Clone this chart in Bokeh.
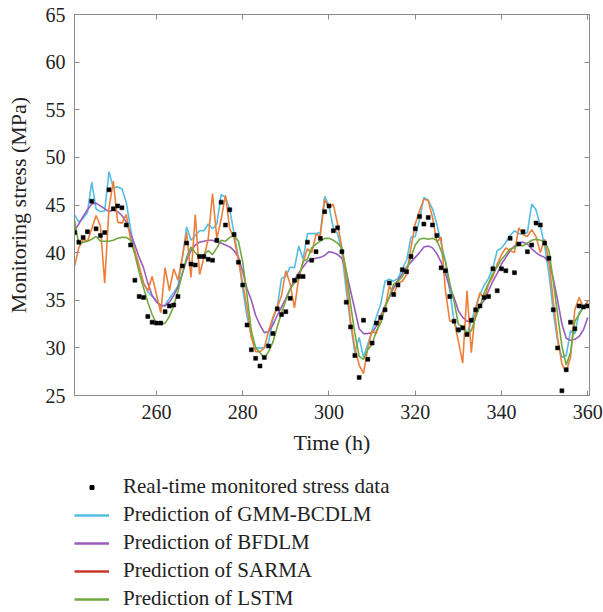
from bokeh.plotting import figure
from bokeh.layouts import column
from bokeh.models import Range1d, LinearAxis, FixedTicker, Legend, LegendItem, CustomJSTickFormatter
from bokeh.embed import file_html
from bokeh.resources import INLINE

hours = list(range(241, 361))

real = [42.1, 41.1, 41.6, 42.2, 45.4, 42.5, 41.8, 42.1, 46.6, 44.6, 44.9, 44.7, 42.9, 40.8, 37.1, 35.4, 35.3, 33.3, 32.7, 32.6,
        32.6, 33.8, 34.4, 34.5, 35.4, 38.6, 41.0, 38.8, 38.7, 39.6, 39.6, 39.3, 39.2, 41.3, 45.3, 42.9, 44.5, 41.9, 39.0, 36.6,
        32.4, 29.8, 28.9, 28.1, 29.0, 30.2, 31.5, 34.1, 33.5, 33.8, 35.2, 37.1, 37.5, 37.5, 41.1, 39.2, 40.1, 41.5, 44.3, 44.9,
        42.3, 42.6, 40.1, 34.8, 32.2, 29.2, 26.9, 32.9, 28.8, 30.5, 32.6, 33.2, 34.0, 36.8, 35.6, 36.6, 38.2, 38.0, 39.6, 42.5,
        43.8, 43.0, 43.7, 42.9, 41.8, 38.4, 38.1, 35.4, 32.8, 31.9, 32.1, 31.4, 32.9, 34.0, 34.4, 35.3, 35.4, 38.3, 36.0, 38.3,
        38.1, 41.5, 37.9, 40.9, 42.2, 40.1, 40.8, 43.1, 42.9, 41.0, 39.4, 34.0, 30.0, 25.5, 27.7, 32.7, 32.0, 34.4, 34.3, 34.4]

gmm = [44.0, 43.2, 43.6, 44.2, 47.4, 44.6, 44.3, 44.4, 48.5, 46.8, 46.9, 46.7, 45.3, 42.5, 40.0, 38.3, 36.8, 35.9, 35.4, 35.0,
       34.3, 34.5, 35.2, 35.8, 36.5, 39.5, 42.7, 41.3, 41.8, 42.3, 42.3, 43.0, 42.5, 43.0, 46.1, 45.8, 44.5, 42.0, 39.5, 36.2,
       33.3, 31.2, 30.0, 30.0, 30.0, 30.6, 33.0, 34.3, 37.3, 37.5, 38.5, 38.4, 40.7, 39.3, 42.0, 42.0, 42.0, 42.1, 45.9, 44.9,
       42.6, 42.0, 40.0, 36.0, 32.5, 29.5, 31.1, 29.0, 30.4, 31.8, 33.3, 34.6, 37.0, 37.2, 37.0, 37.3, 38.3, 39.2, 41.6, 41.7,
       43.5, 45.8, 45.5, 44.6, 43.0, 41.0, 39.1, 36.0, 32.8, 31.6, 32.1, 31.5, 32.8, 34.2, 35.6, 36.6, 37.3, 38.4, 40.2, 40.5,
       41.1, 41.8, 42.3, 42.0, 41.9, 42.1, 45.1, 44.5, 42.8, 40.7, 37.8, 33.8, 30.7, 29.0, 29.2, 31.8, 31.5, 33.7, 34.3, 34.9]

bfdlm = [42.3, 43.0, 43.8, 44.5, 45.1, 45.2, 44.9, 44.6, 44.3, 44.5, 44.3, 43.9, 43.2, 42.0, 40.8, 39.5, 38.4, 36.8, 35.5, 34.8,
         34.5, 34.4, 34.8, 35.5, 36.4, 37.8, 39.2, 40.2, 40.8, 41.1, 41.2, 41.3, 41.3, 41.1, 41.0, 40.8, 40.6, 40.2, 39.5, 38.0,
         36.2, 35.0, 33.4, 32.4, 31.6, 31.7, 32.4, 33.4, 34.3, 35.2, 36.2, 37.1, 37.9, 38.5, 39.1, 39.3, 39.4, 39.5, 39.7, 40.1,
         40.0, 39.8, 39.4, 38.0, 36.0, 34.0, 32.0, 31.5, 31.5, 31.6, 32.3, 33.4, 34.4, 35.3, 36.3, 37.1, 37.8, 38.5, 39.0, 39.5,
         40.0, 40.6, 40.7, 40.5, 39.9, 39.0, 37.8, 36.3, 35.3, 33.9, 33.2, 32.8, 32.8, 33.4, 34.4, 35.0, 36.0, 37.0, 37.8, 38.8,
         39.5, 40.2, 40.7, 41.0, 41.1, 40.9, 40.4, 40.0, 39.7, 39.5, 39.0, 37.3, 35.0, 32.5, 31.0, 30.8, 30.9, 31.2, 31.9, 33.2]

sarma = [38.6, 40.5, 41.4, 41.2, 42.5, 43.9, 42.8, 36.8, 44.7, 47.5, 43.2, 43.1, 44.0, 41.4, 40.2, 38.6, 36.8, 36.0, 37.5, 35.6,
         33.7, 38.4, 36.0, 38.3, 37.1, 39.5, 42.1, 37.4, 44.0, 37.7, 39.5, 41.4, 46.2, 41.5, 43.5, 46.0, 42.5, 41.5, 39.2, 36.8,
         34.2, 31.1, 29.6, 29.6, 30.0, 31.8, 33.2, 34.2, 35.5, 38.1, 36.7, 34.2, 37.4, 39.0, 40.4, 40.0, 41.9, 41.8, 45.6, 44.7,
         45.1, 43.0, 40.5, 37.0, 32.8, 30.0, 28.2, 27.3, 30.0, 31.8, 31.5, 33.0, 34.2, 36.5, 35.6, 36.8, 37.0, 37.7, 40.5, 43.0,
         44.4, 45.6, 45.5, 43.7, 41.1, 41.6, 36.0, 32.8, 32.8, 30.7, 28.4, 36.0, 29.5, 34.2, 35.8, 35.1, 36.7, 37.5, 38.8, 39.8,
         40.5, 40.2, 40.0, 42.6, 41.9, 41.7, 42.4, 41.7, 40.0, 41.4, 39.1, 34.9, 31.1, 28.3, 27.5, 29.0, 34.0, 35.3, 34.2, 34.9]

lstm = [43.4, 40.9, 41.1, 41.2, 41.4, 41.7, 41.2, 41.2, 41.2, 41.3, 41.5, 41.6, 41.6, 41.3, 39.8, 37.9, 36.3, 34.8, 33.5, 32.6,
        32.5, 32.6, 33.3, 34.4, 36.0, 37.8, 39.5, 40.6, 40.0, 39.5, 39.8, 40.2, 39.8, 40.5, 41.3, 41.2, 41.6, 41.8, 41.2, 39.0,
        35.5, 31.8, 30.0, 29.5, 28.9, 29.6, 30.6, 32.2, 33.7, 35.0, 36.2, 36.8, 37.3, 39.1, 39.3, 40.5, 40.9, 41.2, 41.5, 41.5,
        41.3, 41.0, 40.5, 38.1, 34.6, 31.5, 29.1, 28.8, 29.8, 30.4, 31.8, 32.6, 34.2, 35.4, 36.7, 37.0, 37.5, 38.3, 39.5, 40.8,
        41.4, 41.5, 41.4, 41.5, 41.3, 40.2, 39.1, 36.8, 34.9, 32.5, 32.2, 31.6, 31.8, 33.2, 34.4, 35.8, 36.8, 37.8, 38.5, 39.3,
        39.8, 40.4, 40.5, 40.9, 40.7, 41.0, 41.3, 41.4, 41.3, 41.2, 40.2, 37.0, 33.5, 30.2, 28.2, 29.5, 32.8, 33.5, 34.3, 34.6]

x_ticks = [260, 280, 300, 320, 340, 360]
y_ticks = [25, 30, 35, 40, 45, 50, 55, 60, 65]

labels = ["Real-time monitored stress data", "Prediction of GMM-BCDLM", "Prediction of BFDLM",
          "Prediction of SARMA", "Prediction of LSTM"]

FONT = "Liberation Serif"
AX = "#8a8a8a"
TXT = "#222222"
C_GMM = "#56BDE3"
C_BF = "#9A5DBE"
C_SAR = "#EE7F3A"
C_SAR_LEG = "#C8372D"
C_LSTM = "#72A840"

p = figure(width=603, height=470, output_backend="svg", toolbar_location=None,
           x_range=Range1d(241, 360.4), y_range=Range1d(25, 65),
           min_border_left=74, min_border_right=14, min_border_top=14, min_border_bottom=75)
p.grid.visible = False
p.outline_line_color = AX
p.outline_line_width = 1


def style_axis(ax, show_labels=True):
    ax.axis_line_color = AX
    ax.major_tick_line_color = AX
    ax.major_tick_in = 5
    ax.major_tick_out = 0
    ax.minor_tick_line_color = None
    ax.major_label_text_font = FONT
    ax.major_label_text_font_size = "20px"
    ax.major_label_text_color = TXT
    ax.axis_label_text_font = FONT
    ax.axis_label_text_font_size = "22px"
    ax.axis_label_text_font_style = "normal"
    ax.axis_label_text_color = TXT
    if not show_labels:
        ax.formatter = CustomJSTickFormatter(code="return ''")
        ax.major_label_text_font_size = "1px"
        ax.major_label_standoff = 0


xa = p.xaxis[0]
ya = p.yaxis[0]
xa.ticker = FixedTicker(ticks=x_ticks)
ya.ticker = FixedTicker(ticks=y_ticks)
style_axis(xa)
style_axis(ya)
xa.axis_label = "Time (h)"
ya.axis_label = "Monitoring stress (MPa)"
xa.major_label_standoff = 9
ya.major_label_standoff = 9
xa.axis_label_standoff = 8
ya.axis_label_standoff = 12

top = LinearAxis(ticker=FixedTicker(ticks=x_ticks))
right = LinearAxis(ticker=FixedTicker(ticks=y_ticks))
style_axis(top, False)
style_axis(right, False)
p.add_layout(top, "above")
p.add_layout(right, "right")

p.line(hours, gmm, line_color=C_GMM, line_width=1.6)
p.line(hours, bfdlm, line_color=C_BF, line_width=1.6)
p.line(hours, sarma, line_color=C_SAR, line_width=1.6)
p.line(hours, lstm, line_color=C_LSTM, line_width=1.6)
p.scatter(hours, real, marker="square", size=4, fill_color="black", line_color="black", line_width=0.5)

# legend panel below the chart
nan = float("nan")
q = figure(width=603, height=142, output_backend="svg", toolbar_location=None,
           x_range=Range1d(0, 1), y_range=Range1d(0, 1),
           min_border_left=73, min_border_top=4, min_border_right=0, min_border_bottom=0,
           x_axis_type=None, y_axis_type=None)
q.grid.visible = False
q.outline_line_color = None

l_real = q.scatter([nan], [nan], marker="square", size=4, fill_color="black", line_color="black")
l_gmm = q.line([nan], [nan], line_color=C_GMM, line_width=2.4)
l_bf = q.line([nan], [nan], line_color=C_BF, line_width=2.4)
l_sar = q.line([nan], [nan], line_color=C_SAR_LEG, line_width=2.4)
l_lstm = q.line([nan], [nan], line_color=C_LSTM, line_width=2.4)

legend = Legend(items=[
    LegendItem(label=labels[0], renderers=[l_real]),
    LegendItem(label=labels[1], renderers=[l_gmm]),
    LegendItem(label=labels[2], renderers=[l_bf]),
    LegendItem(label=labels[3], renderers=[l_sar]),
    LegendItem(label=labels[4], renderers=[l_lstm]),
], location="top_left")
legend.border_line_alpha = 0
legend.background_fill_alpha = 0
legend.padding = 0
legend.margin = 0
legend.glyph_width = 35
legend.glyph_height = 10
legend.label_height = 20
legend.label_standoff = 14
legend.spacing = 3
legend.label_text_font = FONT
legend.label_text_font_size = "21px"
legend.label_text_color = TXT
q.add_layout(legend, "center")

layout = column(p, q, spacing=0)
open("out.html", "w").write(file_html(layout, INLINE))
